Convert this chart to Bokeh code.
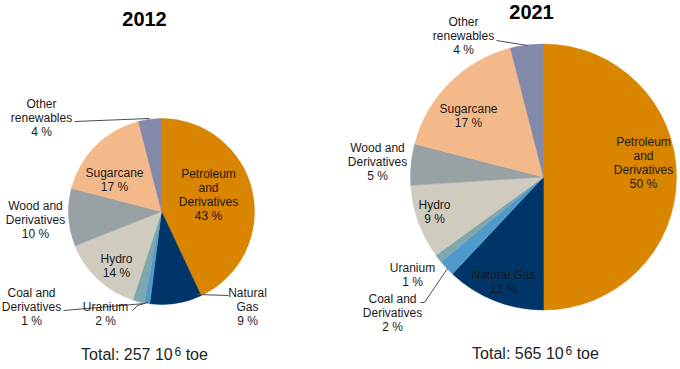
import numpy as np
from bokeh.plotting import figure
from bokeh.models import Range1d, ColumnDataSource
from bokeh.core.properties import value
from bokeh.embed import file_html
from bokeh.resources import INLINE

# Energy supply shares by source, clockwise from 12 o'clock
categories = ["Petroleum and Derivatives", "Natural Gas", "Coal and Derivatives", "Uranium",
              "Hydro", "Wood and Derivatives", "Sugarcane", "Other renewables"]
share_2012 = [43, 9, 1, 2, 14, 10, 17, 4]
share_2021 = [50, 12, 2, 1, 9, 5, 17, 4]
years = ["2012", "2021"]
totals = [257, 565]  # 10^6 toe
colors = ["#D98500", "#003569", "#4F9ACB", "#7FA7AE",
          "#CFCBBE", "#98A2A5", "#F4B98A", "#8389A8"]

W, H = 680, 369
FONT = "Liberation Sans"
TEXT_COLOR = "#1a1a1a"

# Advance widths (per 1000 em) of the Arial-metric font, used to lay out the
# total line with its superscript exponent
ADV = {"T": 611, "o": 556, "t": 278, "a": 556, "l": 222, ":": 278, " ": 278, "e": 556}
ADV.update({d: 556 for d in "0123456789"})


def text_width(s, size):
    return sum(ADV[c] for c in s) * size / 1000.0


def Y(py):
    return H - py


# Layout of each pie: centre, radius, label anchors and wrapping
panels = [
    dict(
        shares=share_2012, cx=161, cy=211, r=93, title_xy=(144, 18), total_xy=(144, 358.5),
        wrap={"Petroleum and Derivatives": ["Petroleum", "and", "Derivatives"],
              "Natural Gas": ["Natural", "Gas"],
              "Coal and Derivatives": ["Coal and", "Derivatives"],
              "Uranium": ["Uranium"], "Hydro": ["Hydro"],
              "Wood and Derivatives": ["Wood and", "Derivatives"],
              "Sugarcane": ["Sugarcane"], "Other renewables": ["Other", "renewables"]},
        anchors={"Petroleum and Derivatives": (208, 173), "Natural Gas": (247, 292),
                 "Coal and Derivatives": (31, 292), "Uranium": (105, 306),
                 "Hydro": (116, 258), "Wood and Derivatives": (35, 205),
                 "Sugarcane": (114, 172), "Other renewables": (41, 103)},
        leaders=[[(74, 121), (149, 118)],
                 [(197, 294), (228, 295)],
                 [(63, 310), (144, 303)],
                 [(132, 310), (137, 305), (147, 302)]],
    ),
    dict(
        shares=share_2021, cx=543, cy=176.5, r=133, title_xy=(531, 11), total_xy=(535, 357.5),
        wrap={"Petroleum and Derivatives": ["Petroleum", "and", "Derivatives"],
              "Natural Gas": ["Natural Gas"],
              "Coal and Derivatives": ["Coal and", "Derivatives"],
              "Uranium": ["Uranium"], "Hydro": ["Hydro"],
              "Wood and Derivatives": ["Wood and", "Derivatives"],
              "Sugarcane": ["Sugarcane"], "Other renewables": ["Other", "renewables"]},
        anchors={"Petroleum and Derivatives": (643, 141), "Natural Gas": (503, 274),
                 "Coal and Derivatives": (392, 298), "Uranium": (412, 267),
                 "Hydro": (434, 204), "Wood and Derivatives": (377, 147),
                 "Sugarcane": (468, 108), "Other renewables": (463, 21)},
        leaders=[[(496, 40), (527, 45)],
                 [(420, 302), (424, 302), (447, 268)]],
    ),
]

p = figure(width=W, height=H, x_range=Range1d(0, W), y_range=Range1d(0, H),
           output_backend="svg", toolbar_location=None,
           x_axis_type=None, y_axis_type=None, min_border=0)
p.grid.visible = False
p.outline_line_color = None
p.background_fill_color = "white"
p.border_fill_color = "white"

LINE_STEP = 14
TOTAL_SIZE = 16
SUP_SIZE = 12

for year, total, panel in zip(years, totals, panels):
    shares = np.array(panel["shares"], dtype=float)
    cum = np.concatenate([[0.0], np.cumsum(shares)]) / shares.sum()
    start = np.pi / 2 - 2 * np.pi * cum[:-1]
    end = np.pi / 2 - 2 * np.pi * cum[1:]
    src = ColumnDataSource(dict(start=start, end=end, color=colors))
    p.wedge(x=panel["cx"], y=Y(panel["cy"]), radius=panel["r"],
            start_angle="start", end_angle="end", direction="clock",
            fill_color="color", line_color="color", line_width=0.5, source=src)

    # leader lines
    for pts in panel["leaders"]:
        p.line([q[0] for q in pts], [Y(q[1]) for q in pts],
               line_color="#4d4d4d", line_width=1)

    # slice labels: name lines followed by the share
    lx, ly, lt = [], [], []
    for cat, share in zip(categories, panel["shares"]):
        ax, ay = panel["anchors"][cat]
        lines = panel["wrap"][cat] + [f"{share} %"]
        for i, t in enumerate(lines):
            lx.append(ax)
            ly.append(Y(ay + i * LINE_STEP))
            lt.append(t)
    p.text(x=lx, y=ly, text=lt, text_font=value(FONT), text_font_size="12px",
           text_align="center", text_baseline="middle", text_color=TEXT_COLOR)

    # year heading
    tx, ty = panel["title_xy"]
    p.text(x=[tx], y=[Y(ty)], text=[year], text_font=value(FONT), text_font_size="20px",
           text_font_style="bold", text_align="center", text_baseline="middle",
           text_color="black")

    # total, with the exponent of 10^6 set as a raised smaller digit
    sx, base = panel["total_xy"]
    head, exp, tail = f"Total: {total} 10", "6", "toe"
    w1 = text_width(head, TOTAL_SIZE)
    w2 = text_width(exp, SUP_SIZE)
    gap = text_width(" ", TOTAL_SIZE)
    w3 = text_width(tail, TOTAL_SIZE)
    left = sx - (w1 + w2 + gap + w3) / 2
    sup_base = base - TOTAL_SIZE * 0.716 + SUP_SIZE * 0.716
    p.text(x=[left, left + w1 + w2 + gap], y=[Y(base) + 5, Y(base) + 5], text=[head, tail],
           text_font=value(FONT), text_font_size=f"{TOTAL_SIZE}px",
           text_align="left", text_baseline="alphabetic", text_color="#222222")
    p.text(x=[left + w1], y=[Y(sup_base) + 5], text=[exp],
           text_font=value(FONT), text_font_size=f"{SUP_SIZE}px",
           text_align="left", text_baseline="alphabetic", text_color="#222222")

open("out.html", "w").write(file_html(p, INLINE))
